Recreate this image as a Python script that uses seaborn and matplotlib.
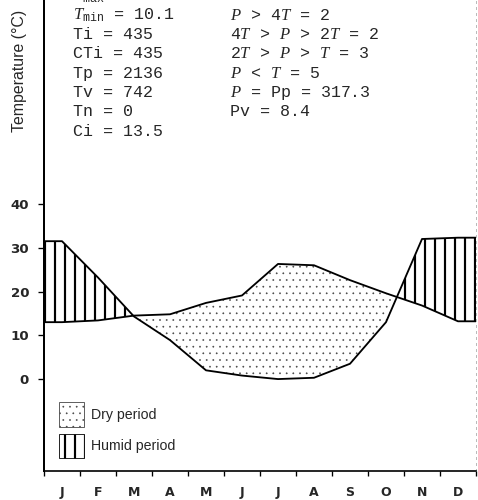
import numpy as np
import pandas as pd
import matplotlib
matplotlib.use("Agg")
import matplotlib.pyplot as plt
import matplotlib.patches as mpatches
import seaborn as sns

# ---------------- data ----------------
months = ['J', 'F', 'M', 'A', 'M', 'J', 'J', 'A', 'S', 'O', 'N', 'D']
temperature = [13.0, 13.4, 14.5, 14.8, 17.4, 19.1, 26.3, 26.0, 22.6, 19.6, 16.8, 13.2]
precip_scaled = [31.5, 23.2, 14.3, 8.9, 2.0, 0.8, 0.0, 0.3, 3.5, 13.0, 32.0, 32.3]
yticks = [0, 10, 20, 30, 40]
left_lines = [r"$T_{\mathrm{max}}$", r"$T_{\mathrm{min}}$ = 10.1", "Ti = 435", "CTi = 435",
              "Tp = 2136", "Tv = 742", "Tn = 0", "Ci = 13.5"]
right_lines = [r"$P$ > 4$T$ = 2", r"4$T$ > $P$ > 2$T$ = 2", r"2$T$ > $P$ > $T$ = 3",
               r"$P$ < $T$ = 5", r"$P$ = Pp = 317.3", "Pv = 8.4"]
ylabel = "Temperature (°C)"
legend_labels = ["Dry period", "Humid period"]

# ---------------- style ----------------
sns.set_style("white")
plt.rcParams['font.family'] = ['Liberation Sans', 'DejaVu Sans']
plt.rcParams['mathtext.fontset'] = 'custom'
plt.rcParams['mathtext.it'] = 'Liberation Serif:italic'
plt.rcParams['mathtext.rm'] = 'Liberation Mono'
plt.rcParams['mathtext.default'] = 'it'

DPI = 120
fig = plt.figure(figsize=(478 / DPI, 500 / DPI), dpi=DPI)
ax = fig.add_axes([44 / 478, 29 / 500, 432 / 478, 471 / 500])

# x positions at month centres, ends held flat to the axis edges
xc = np.arange(len(months)) + 0.5
x = np.concatenate([[0.0], xc, [len(months)]])
t = np.concatenate([[temperature[0]], temperature, [temperature[-1]]])
p = np.concatenate([[precip_scaled[0]], precip_scaled, [precip_scaled[-1]]])

df = pd.DataFrame({"x": np.concatenate([x, x]),
                   "value": np.concatenate([t, p]),
                   "series": ["T"] * len(x) + ["P"] * len(x)})

HUMID_LW = 1.3
DRY_LW = 0.25
DRY_COLOR = '#444444'

with plt.rc_context({'hatch.linewidth': HUMID_LW}):
    humid = ax.fill_between(x, t, p, where=p >= t, interpolate=True,
                            facecolor='none', edgecolor='black', hatch='||', linewidth=0)
with plt.rc_context({'hatch.linewidth': DRY_LW}):
    dry = ax.fill_between(x, t, p, where=t >= p, interpolate=True,
                          facecolor='none', edgecolor=DRY_COLOR, hatch='...', linewidth=0)
for coll, lw in ((humid, HUMID_LW), (dry, DRY_LW)):
    if hasattr(coll, "set_hatch_linewidth"):
        coll.set_hatch_linewidth(lw)

sns.lineplot(data=df, x="x", y="value", hue="series", palette={"T": "black", "P": "black"},
             linewidth=1.1, legend=False, ax=ax, sort=False, estimator=None)

ax.set_xlim(0, len(months))
ax.set_ylim(-21, 86.6)

# ticks
ax.set_xticks(np.arange(0, len(months) + 1))
ax.set_xticklabels([])
ax.set_xticks(xc, minor=True)
ax.set_xticklabels(months, minor=True, fontsize=7.5, fontweight='bold', family='DejaVu Sans')
ax.tick_params(axis='x', which='major', direction='out', length=3, width=0.8, color='black', bottom=True)
ax.tick_params(axis='x', which='minor', length=0, pad=9, bottom=True)
ax.set_yticks(yticks)
ax.set_yticklabels([str(v) for v in yticks], fontsize=8, fontweight='bold', family='DejaVu Sans')
ax.tick_params(axis='y', which='major', direction='out', length=3.6, width=0.8, pad=5.4,
               color='black', left=True)

ax.set_xlabel("")
ax.set_ylabel(ylabel, fontsize=9.5)
ax.yaxis.set_label_coords(-0.039, 0.849)

# spines
ax.spines['top'].set_visible(False)
ax.spines['left'].set_color('black')
ax.spines['left'].set_linewidth(1.2)
ax.spines['bottom'].set_color('black')
ax.spines['bottom'].set_linewidth(1.0)
ax.spines['right'].set_color('#bbbbbb')
ax.spines['right'].set_linewidth(0.6)
ax.spines['right'].set_linestyle((0, (2, 4)))

# text block (monospace)
step = 19.35
base0 = 0.15
for i, s in enumerate(left_lines):
    fig.text(73 / 478, 1 - (base0 + step * i) / 500, s, family='Liberation Mono',
             fontsize=10, va='baseline', ha='left')
for i, s in enumerate(right_lines):
    fig.text(230 / 478, 1 - (base0 + step * (i + 1)) / 500, s, family='Liberation Mono',
             fontsize=10, va='baseline', ha='left')

# legend
dry_h = mpatches.Patch(facecolor='white', edgecolor=DRY_COLOR, hatch='...', linewidth=0.5)
hum_h = mpatches.Patch(facecolor='white', edgecolor='black', hatch='||', linewidth=0.5)
for h, lw in ((dry_h, DRY_LW), (hum_h, HUMID_LW)):
    if hasattr(h, "set_hatch_linewidth"):
        h.set_hatch_linewidth(lw)
leg = ax.legend([dry_h, hum_h], legend_labels, loc='upper left', bbox_to_anchor=(0.0347, 0.1465),
                frameon=False, fontsize=8.5, handlelength=1.75, handleheight=2.3,
                labelspacing=0.5, handletextpad=0.5, borderpad=0, borderaxespad=0)
for lh, lw in zip(leg.legend_handles, (DRY_LW, HUMID_LW)):
    if hasattr(lh, "set_hatch_linewidth"):
        lh.set_hatch_linewidth(lw)

fig.savefig("out.png", dpi=DPI, facecolor='white')
